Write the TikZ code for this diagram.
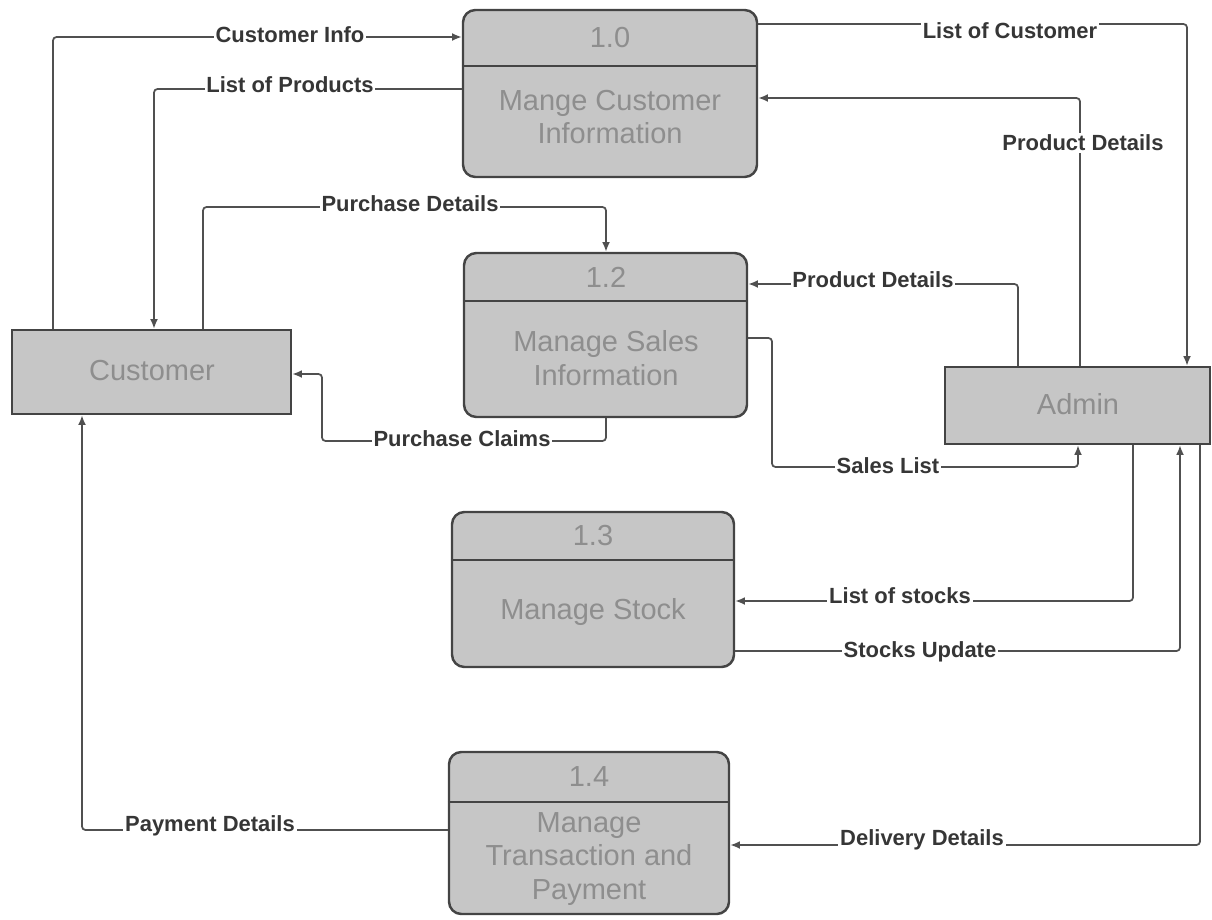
\documentclass[tikz,border=0pt]{standalone}
\usepackage{fontspec}
\setmainfont{Liberation Sans}
\newfontfamily\boxfont{Liberation Sans}
\usetikzlibrary{arrows.meta,fit}

\definecolor{boxfill}{HTML}{C6C6C6}
\definecolor{boxline}{HTML}{444444}
\definecolor{boxtext}{HTML}{8E8E8E}
\definecolor{flowline}{HTML}{505050}
\definecolor{flowtext}{HTML}{363636}

\tikzset{
  procbox/.style={draw=boxline, fill=boxfill, line width=1.4pt, rounded corners=7pt, inner sep=0pt},
  entbox/.style={draw=boxline, fill=boxfill, line width=1.4pt, inner sep=0pt},
  divider/.style={draw=boxline, line width=1.4pt},
  boxlbl/.style={text=boxtext, font=\boxfont\fontsize{16.5}{19}\selectfont, align=center, inner sep=0pt},
  flow/.style={draw=flowline, line width=1pt, rounded corners=2pt, -{Latex[length=5.5pt,width=4.5pt]}},
  lbl/.style={fill=white, text=flowtext, font=\bfseries\fontsize{12.5}{15}\selectfont, inner sep=1pt}
}

\begin{document}
\begin{tikzpicture}[x=0.02cm, y=-0.02cm]
\useasboundingbox (0,0) rectangle (1212,919);

% process boxes
\node[procbox, fit={(463,10) (757,177)}] (p10) {};
\draw[divider] (p10.west |- 0,66) -- (p10.east |- 0,66);
\node[boxlbl] (p10n) at (610,38) {1.0};
\node[boxlbl] (p10t) at (610,117) {Mange Customer\\Information};

\node[procbox, fit={(464,253) (747,417)}] (p12) {};
\draw[divider] (p12.west |- 0,301) -- (p12.east |- 0,301);
\node[boxlbl] (p12n) at (606,277) {1.2};
\node[boxlbl] (p12t) at (606,358) {Manage Sales\\Information};

\node[procbox, fit={(452,512) (734,667)}] (p13) {};
\draw[divider] (p13.west |- 0,560) -- (p13.east |- 0,560);
\node[boxlbl] (p13n) at (593,536) {1.3};
\node[boxlbl] (p13t) at (593,612) {Manage Stock};

\node[procbox, fit={(449,752) (729,914)}] (p14) {};
\draw[divider] (p14.west |- 0,802) -- (p14.east |- 0,802);
\node[boxlbl] (p14n) at (589,777) {1.4};
\node[boxlbl] (p14t) at (589,859) {Manage\\Transaction and\\Payment};

% external entities
\node[entbox, fit={(12,330) (291,414)}] (cust) {};
\node[boxlbl] (custt) at (152,371) {Customer};
\node[entbox, fit={(945,367) (1210,444)}] (admin) {};
\node[boxlbl] (admint) at (1078,404) {Admin};

% data flows
\draw[flow] (53,0 |- cust.north) |- (p10.west |- 0,37);
\node[lbl] (f1) at (290,35) {Customer Info};

\draw[flow] (p10.west |- 0,89) -| (154,0 |- cust.north);
\node[lbl] (f2) at (290,85) {List of Products};

\draw[flow] (203,0 |- cust.north) |- (606,207) -- (606,0 |- p12.north);
\node[lbl] (f3) at (410,204) {Purchase Details};

\draw[flow] (606,0 |- p12.south) -- (606,441) -| (322,374) -- (cust.east |- 0,374);
\node[lbl] (f4) at (462,439) {Purchase Claims};

\draw[flow] (p12.east |- 0,338) -| (772,467) -| (1078,0 |- admin.south);
\node[lbl] (f5) at (888,466) {Sales List};

\draw[flow] (1018,0 |- admin.north) |- (p12.east |- 0,284);
\node[lbl] (f6) at (873,280) {Product Details};

\draw[flow] (1080,0 |- admin.north) |- (p10.east |- 0,98);
\node[lbl] (f7) at (1083,143) {Product Details};

\draw[flow] (p10.east |- 0,24) -| (1187,0 |- admin.north);
\node[lbl] (f8) at (1010,31) {List of Customer};

\draw[flow] (1133,0 |- admin.south) |- (p13.east |- 0,601);
\node[lbl] (f9) at (900,596) {List of stocks};

\draw[flow] (p13.east |- 0,651) -| (1180,0 |- admin.south);
\node[lbl] (f10) at (920,652) {Stocks Update};

\draw[flow] (1200,0 |- admin.south) |- (p14.east |- 0,845);
\node[lbl] (f11) at (922,840) {Delivery Details};

\draw[flow] (p14.west |- 0,830) -| (82,0 |- cust.south);
\node[lbl] (f12) at (210,826) {Payment Details};
\end{tikzpicture}
\end{document}
